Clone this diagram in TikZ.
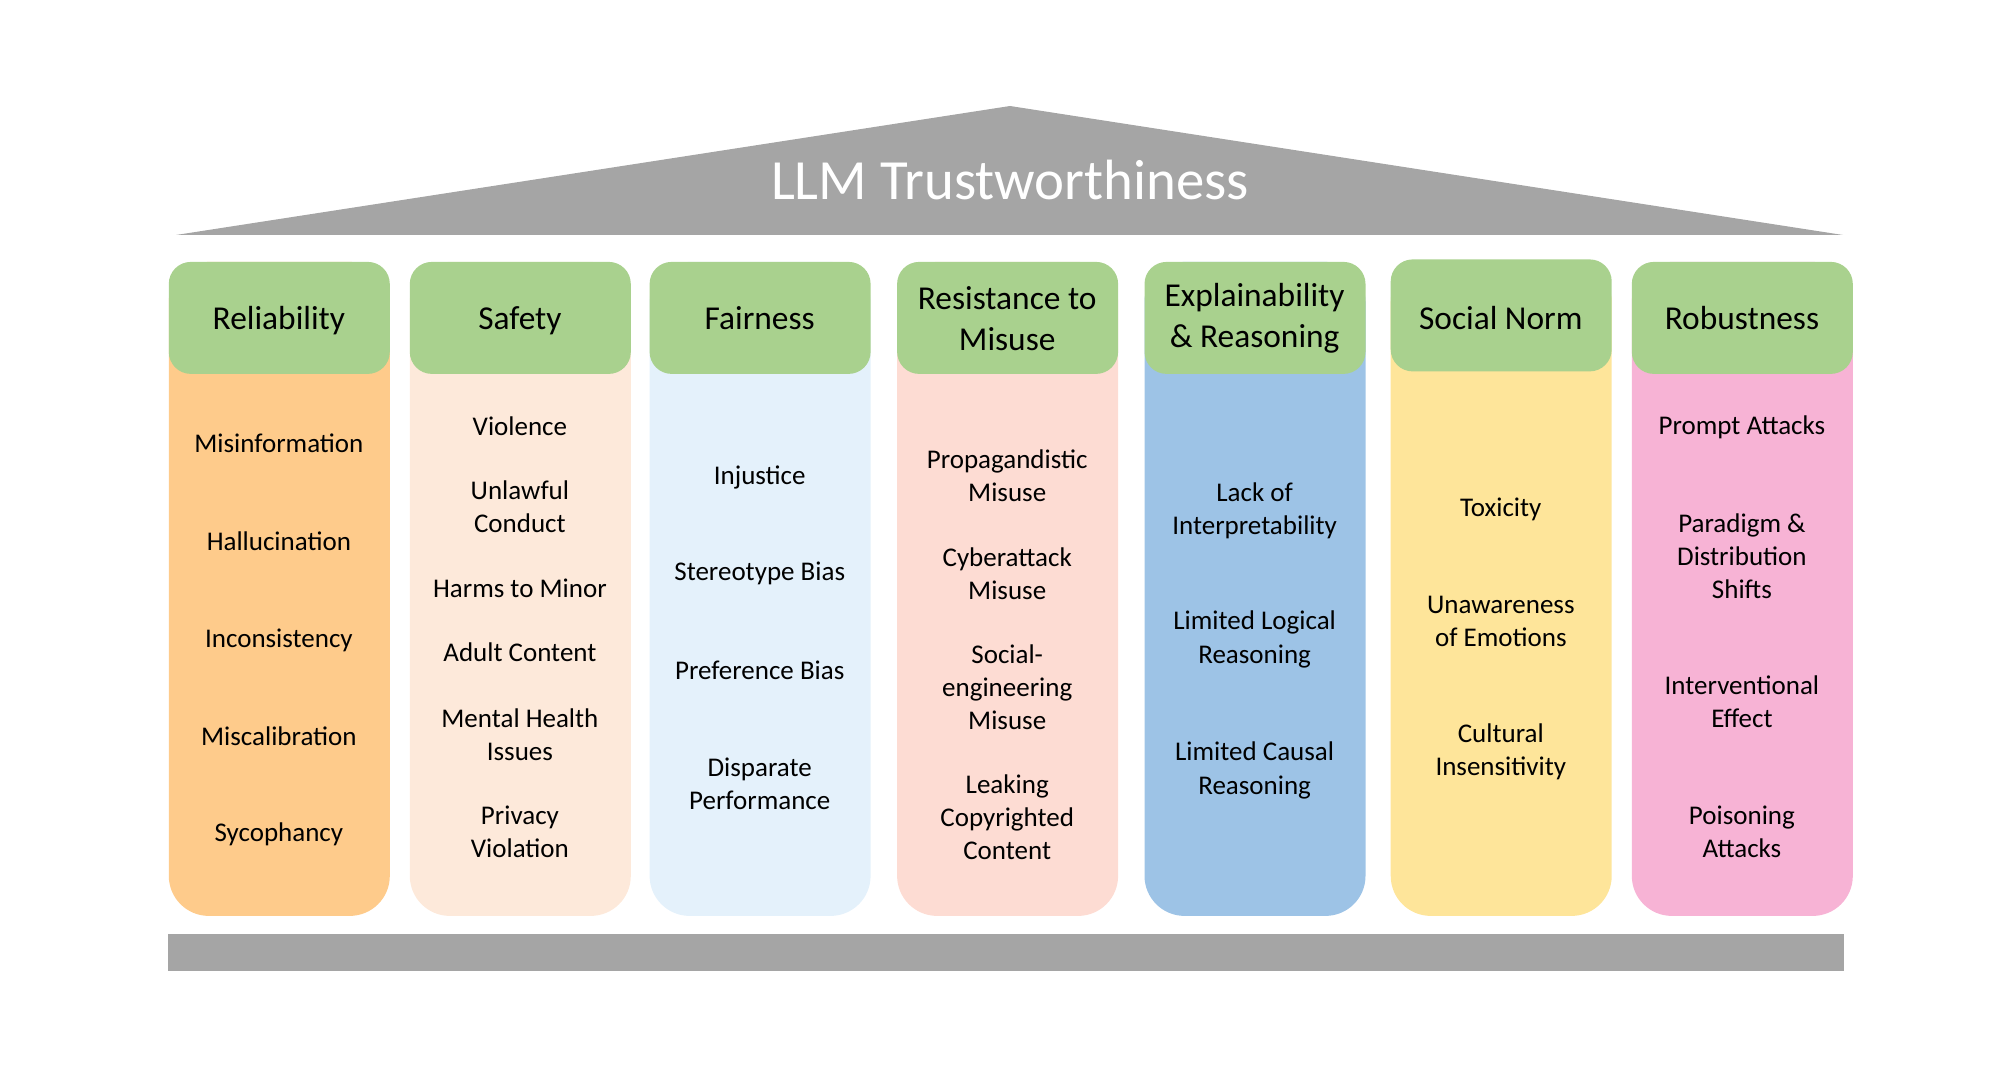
\documentclass[tikz,border=0pt]{standalone}
\usepackage{fontspec}
\setmainfont{Carlito}
\definecolor{roofgrey}{HTML}{A5A5A5}
\definecolor{hdrgreen}{HTML}{A9D18E}
\definecolor{cReli}{HTML}{FECB8B}
\definecolor{cSafe}{HTML}{FDE9DA}
\definecolor{cFair}{HTML}{E4F1FB}
\definecolor{cResi}{HTML}{FDDCD3}
\definecolor{cExpl}{HTML}{9DC3E6}
\definecolor{cSoci}{HTML}{FEE59A}
\definecolor{cRobu}{HTML}{F7B3D5}
\begin{document}
\begin{tikzpicture}[x=0.5pt,y=-0.5pt,
  pillar/.style={draw=none,anchor=north west,minimum width=110.5pt,minimum height=327pt,rounded corners=20pt,inner sep=0pt},
  header/.style={fill=hdrgreen,draw=none,anchor=north west,minimum width=110.5pt,minimum height=56pt,rounded corners=11pt,inner sep=0pt},
  htext/.style={align=center,inner sep=0pt,font=\fontsize{16.7}{20.4}\selectfont},
  item/.style={align=center,inner sep=0pt,font=\fontsize{13.5}{16.6}\selectfont}]
\useasboundingbox (0,0) rectangle (2000,1075);
% roof
\fill[roofgrey] (176,235) -- (1010,106) -- (1843,235) -- cycle;
\node[text=white,font=\fontsize{28.4}{32}\selectfont] (title) at (1010,180) {LLM Trustworthiness};
% base
\node[fill=roofgrey,anchor=north west,minimum width=838pt,minimum height=18.5pt,inner sep=0pt] (base) at (168,934) {};
% pillars
\node[pillar,fill=cReli] (p1) at (168.4,261.5) {};
\node[pillar,fill=cSafe] (p2) at (409.4,261.5) {};
\node[pillar,fill=cFair] (p3) at (649.2,261.5) {};
\node[pillar,fill=cResi] (p4) at (896.7,261.5) {};
\node[pillar,fill=cExpl] (p5) at (1144.1,261.5) {};
\node[pillar,fill=cSoci] (p6) at (1390.3,261.5) {};
\node[pillar,fill=cRobu] (p7) at (1631.4,261.5) {};
% headers
\node[header] (h1) at (168.4,261.5) {};
\node[header] (h2) at (409.4,261.5) {};
\node[header] (h3) at (649.2,261.5) {};
\node[header] (h4) at (896.7,261.5) {};
\node[header] (h5) at (1144.1,261.5) {};
\node[header] (h6) at (1390.3,259) {};
\node[header] (h7) at (1631.4,261.5) {};
\node[htext,anchor=base] (h1t) at (278.9,329.5) {Reliability};
\node[htext,anchor=base] (h2t) at (519.9,329.5) {Safety};
\node[htext,anchor=base] (h3t) at (759.7,329.5) {Fairness};
\node[htext] (h4t) at (1007.2,318.5) {Resistance to\\Misuse};
\node[htext] (h5t) at (1254.6,318.5) {Explainability\\\& Reasoning};
\node[htext,anchor=base] (h6t) at (1500.8,329.5) {Social Norm};
\node[htext,anchor=base] (h7t) at (1741.9,329.5) {Robustness};
% Reliability
\node[item] (r1) at (278.9,443.5) {Misinformation};
\node[item] (r2) at (278.9,540.8) {Hallucination};
\node[item] (r3) at (278.9,640) {Inconsistency};
\node[item] (r4) at (278.9,736) {Miscalibration};
\node[item] (r5) at (278.9,834) {Sycophancy};
% Safety
\node[item] (s1) at (519.9,426) {Violence};
\node[item] (s2) at (519.9,507) {Unlawful\\Conduct};
\node[item] (s3) at (519.9,588) {Harms to Minor};
\node[item] (s4) at (519.9,652) {Adult Content};
\node[item] (s5) at (519.9,735) {Mental Health\\Issues};
\node[item] (s6) at (519.9,832) {Privacy\\Violation};
% Fairness
\node[item] (f1) at (759.7,477) {Injustice};
\node[item] (f2) at (759.7,573.5) {Stereotype Bias};
\node[item] (f3) at (759.7,670) {Preference Bias};
\node[item] (f4) at (759.7,783.5) {Disparate\\Performance};
% Resistance
\node[item] (m1) at (1007.2,476) {Propagandistic\\Misuse};
\node[item] (m2) at (1007.2,574) {Cyberattack\\Misuse};
\node[item] (m3) at (1007.2,687) {Social-\\engineering\\Misuse};
\node[item] (m4) at (1007.2,817.5) {Leaking\\Copyrighted\\Content};
% Explainability
\node[item] (e1) at (1254.6,510.5) {Lack of\\Interpretability};
\node[item] (e2) at (1254.6,639.5) {Limited Logical\\Reasoning};
\node[item] (e3) at (1254.6,770.5) {Limited Causal\\Reasoning};
% Social Norm
\node[item] (n1) at (1500.8,509.5) {Toxicity};
\node[item] (n2) at (1500.8,621.5) {Unawareness\\of Emotions};
\node[item] (n3) at (1500.8,751.5) {Cultural\\Insensitivity};
% Robustness
\node[item] (b1) at (1741.9,427) {Prompt Attacks};
\node[item] (b2) at (1741.9,556) {Paradigm \&\\Distribution\\Shifts};
\node[item] (b3) at (1741.9,701.5) {Interventional\\Effect};
\node[item] (b4) at (1741.9,832) {Poisoning\\Attacks};
\end{tikzpicture}
\end{document}
